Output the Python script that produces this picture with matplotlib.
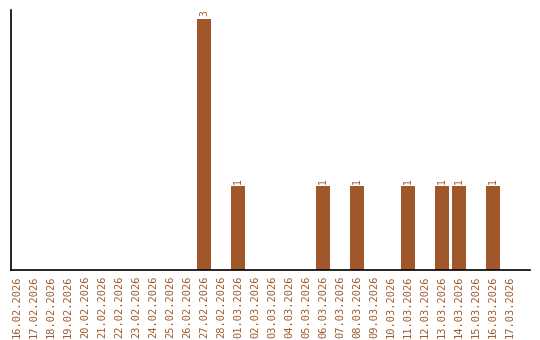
import matplotlib
matplotlib.use("Agg")
import matplotlib.pyplot as plt
import numpy as np

# dates shown on the x axis
dates = ["16.02.2026", "17.02.2026", "18.02.2026", "19.02.2026", "20.02.2026",
         "21.02.2026", "22.02.2026", "23.02.2026", "24.02.2026", "25.02.2026",
         "26.02.2026", "27.02.2026", "28.02.2026", "01.03.2026", "02.03.2026",
         "03.03.2026", "04.03.2026", "05.03.2026", "06.03.2026", "07.03.2026",
         "08.03.2026", "09.03.2026", "10.03.2026", "11.03.2026", "12.03.2026",
         "13.03.2026", "14.03.2026", "15.03.2026", "16.03.2026", "17.03.2026"]
counts = [0, 0, 0, 0, 0, 0, 0, 0, 0, 0,
          0, 3, 0, 1, 0, 0, 0, 0, 1, 0,
          1, 0, 0, 1, 0, 1, 1, 0, 1, 0]

color = "#A0582A"
W, H = 540, 340

fig = plt.figure(figsize=(W / 100, H / 100), dpi=100)
ax = fig.add_axes([11 / W, 70 / H, (530 - 11) / W, (270 - 10) / H])

x = np.arange(len(dates))
ax.bar(x, counts, width=0.82, color=color)

# value labels above non-empty bars
for xi, c in zip(x, counts):
    if c > 0:
        ax.text(xi, c + 0.03, str(c), rotation=90, ha="center", va="bottom",
                fontsize=7, color=color, family="DejaVu Sans Mono")

ax.set_xlim(-0.35, 30.18)
ax.set_ylim(0, 3.106)
ax.set_xticks(x)
ax.set_xticklabels(dates, rotation=90, fontsize=7.5, color=color,
                   family="DejaVu Sans Mono")
ax.tick_params(axis="x", length=0, pad=4)
ax.set_yticks([])
for s in ["top", "right"]:
    ax.spines[s].set_visible(False)
for s in ["left", "bottom"]:
    ax.spines[s].set_color("black")
    ax.spines[s].set_linewidth(1.2)

fig.savefig("out.png", dpi=100)
